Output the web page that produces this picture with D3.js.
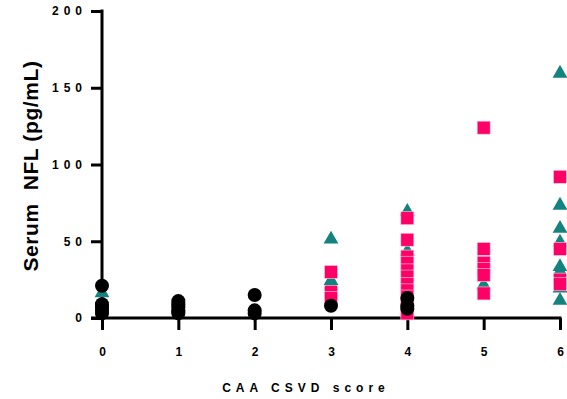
<!DOCTYPE html>
<html>
<head>
<meta charset="utf-8">
<script src="https://cdn.jsdelivr.net/npm/d3@7"></script>
<style>
	body { margin: 0; background: #fff; }
	svg { display: block; font-family: "Liberation Sans", Arial, sans-serif; }
</style>
</head>
<body>
<svg id="chart"></svg>
<script>
// values, one list per score
var scores = [0, 1, 2, 3, 4, 5, 6]
var yTicks = [0, 50, 100, 150, 200]

var blackByScore = [
	[21, 9, 7, 5, 3],
	[11, 9, 7, 5, 4, 3],
	[15, 5, 3],
	[8],
	[13, 8, 6],
	[],
	[]
]
var tealByScore = [
	[17],
	[],
	[],
	[52, 25, 22],
	[70, 44],
	[22],
	[160, 74, 59, 50, 34, 31, 20, 12]
]
var pinkByScore = [
	[],
	[],
	[],
	[30, 17, 13],
	[65, 51, 40, 36, 31, 27, 22, 18, 14, 10, 6, 3],
	[124, 45, 36, 32, 28, 16],
	[92, 45, 25, 22]
]

function flatten(byScore) {
	var out = []
	byScore.forEach(function(vals, i) {
		vals.forEach(function(v) {
			out.push({ score: scores[i], value: v })
		})
	})
	return out
}

var width = 567
var height = 399
var svg = d3.select('#chart')
	.attr('width', width)
	.attr('height', height)

var x = d3.scaleLinear().domain([0, 6]).range([102, 560])
var y = d3.scaleLinear().domain([0, 200]).range([318, 11])

// axes
var xAxis = svg.append('g')
	.attr('transform', 'translate(0,318)')
	.call(d3.axisBottom(x).tickValues(scores).tickSize(12).tickSizeOuter(0).tickPadding(17)
		.tickFormat(d3.format('d')))
xAxis.select('.domain').remove()
xAxis.selectAll('line').attr('stroke', '#000').attr('stroke-width', 3)
xAxis.selectAll('text')
	.attr('font-size', 12)
	.attr('font-weight', 'bold')
	.attr('fill', '#000')
	.attr('font-family', '"Liberation Sans", Arial, sans-serif')

var yAxis = svg.append('g')
	.attr('transform', 'translate(102,0)')
	.call(d3.axisLeft(y).tickValues(yTicks).tickSize(11).tickSizeOuter(0).tickPadding(4)
		.tickFormat(d3.format('d')))
yAxis.select('.domain').remove()
yAxis.selectAll('line').attr('stroke', '#000').attr('stroke-width', 3)
yAxis.selectAll('text')
	.attr('font-size', 12)
	.attr('font-weight', 'bold')
	.attr('fill', '#000')
	.attr('letter-spacing', 5)
	.attr('font-family', '"Liberation Sans", Arial, sans-serif')

svg.append('line')
	.attr('x1', 102).attr('x2', 102)
	.attr('y1', y(200) - 1.5).attr('y2', y(0))
	.attr('stroke', '#000').attr('stroke-width', 3)
svg.append('line')
	.attr('x1', 91).attr('x2', x(6) + 1.5)
	.attr('y1', y(0)).attr('y2', y(0))
	.attr('stroke', '#000').attr('stroke-width', 3)

// points: triangles, then squares, then circles on top
var tri = d3.symbol().type(d3.symbolTriangle).size(95)
svg.append('g').selectAll('path')
	.data(flatten(tealByScore))
	.enter()
	.append('path')
	.attr('d', tri)
	.attr('transform', function(d) { return 'translate(' + x(d.score) + ',' + (y(d.value) + 1) + ')' })
	.attr('fill', '#138380')

svg.append('g').selectAll('rect')
	.data(flatten(pinkByScore))
	.enter()
	.append('rect')
	.attr('x', function(d) { return x(d.score) - 6.5 })
	.attr('y', function(d) { return y(d.value) - 6.5 })
	.attr('width', 13)
	.attr('height', 13)
	.attr('fill', '#ff0066')
	.attr('stroke', '#ffd0e0')
	.attr('stroke-width', 0.6)

svg.append('g').selectAll('circle')
	.data(flatten(blackByScore))
	.enter()
	.append('circle')
	.attr('cx', function(d) { return x(d.score) })
	.attr('cy', function(d) { return y(d.value) })
	.attr('r', 7)
	.attr('fill', '#000')

// titles
svg.append('text')
	.attr('transform', 'translate(38,166) rotate(-90)')
	.attr('text-anchor', 'middle')
	.attr('font-size', 21)
	.attr('font-weight', 'bold')
	.attr('letter-spacing', 0.6)
	.style('white-space', 'pre')
	.text('Serum  NFL (pg/mL)')

svg.append('text')
	.attr('x', 306)
	.attr('y', 392)
	.attr('text-anchor', 'middle')
	.attr('font-size', 12)
	.attr('font-weight', 'bold')
	.attr('letter-spacing', 5)
	.style('white-space', 'pre')
	.text('CAA CSVD score')
</script>
</body>
</html>
